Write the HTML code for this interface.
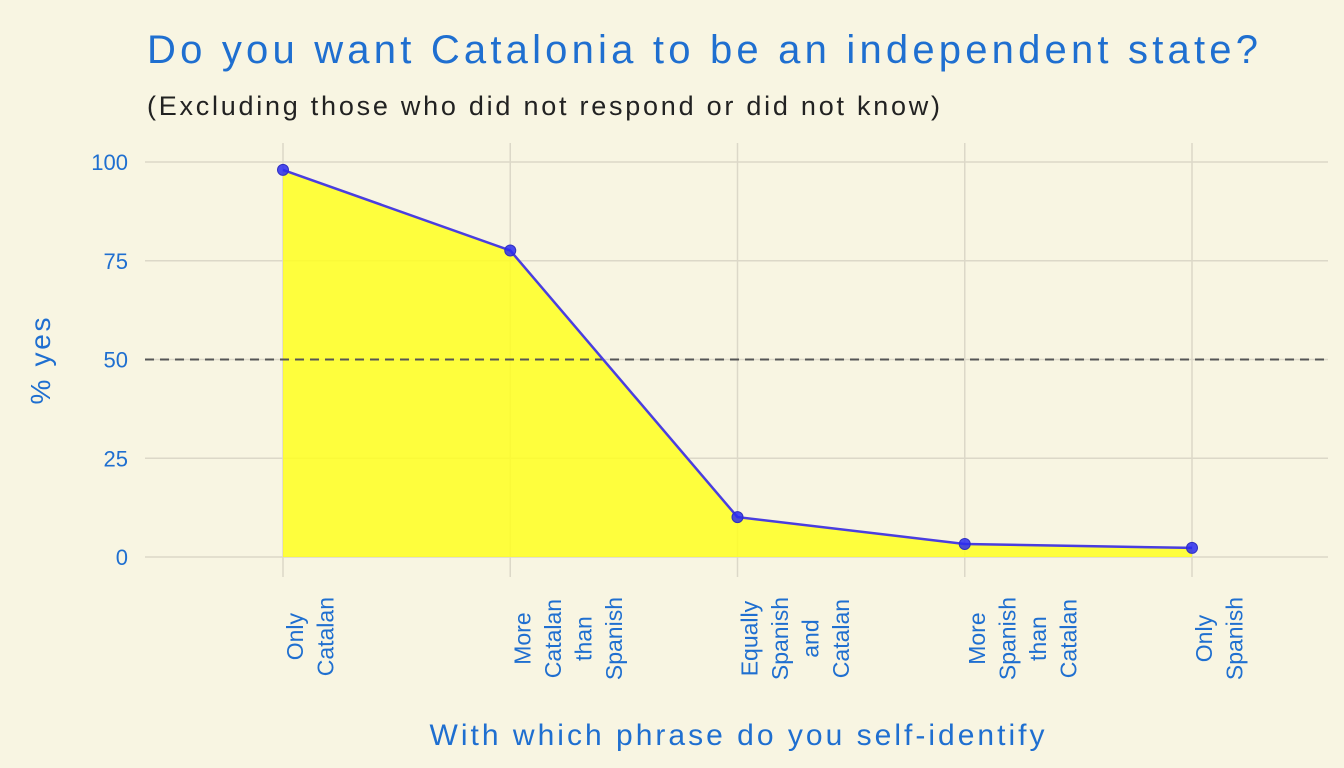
<!DOCTYPE html>
<html><head><meta charset="utf-8"><style>
body{margin:0;background:#f8f5e2;}
svg{display:block;font-family:"Liberation Sans",sans-serif;}
</style></head><body>
<svg id="chart" width="1344" height="768">
<rect width="1344" height="768" fill="#f8f5e2"/>
<text x="147" y="63" font-size="40" fill="#1f6fd0" textLength="1111" lengthAdjust="spacing">Do you want Catalonia to be an independent state?</text>
<text x="147" y="115" font-size="27" fill="#222" textLength="793" lengthAdjust="spacing">(Excluding those who did not respond or did not know)</text>
<g id="grid"></g><g id="marks"></g><g id="axes"></g>
<text transform="translate(50,361) rotate(-90)" text-anchor="middle" font-size="28" fill="#1f6fd0" textLength="87" lengthAdjust="spacing">% yes</text>
<text x="737" y="745" text-anchor="middle" font-size="30" fill="#1f6fd0" textLength="615" lengthAdjust="spacing">With which phrase do you self-identify</text>
</svg>
<script>
const categories=[["Only","Catalan"],["More","Catalan","than","Spanish"],["Equally","Spanish","and","Catalan"],["More","Spanish","than","Catalan"],["Only","Spanish"]];
const values=[98,77.6,10.1,3.3,2.3];
const yTicks=[0,25,50,75,100];
const threshold=50;
const NS="http://www.w3.org/2000/svg";
const x=i=>283+i*227.25;
const y=v=>557-v*3.95;
function mk(p,tag,a){const e=document.createElementNS(NS,tag);for(const k in a)e.setAttribute(k,a[k]);p.appendChild(e);return e;}
const grid=document.getElementById('grid'),marks=document.getElementById('marks'),axes=document.getElementById('axes');
yTicks.forEach(t=>{
 const l=mk(grid,'line',{x1:145,x2:1328,y1:y(t),y2:y(t),stroke:'#dcd8c8','stroke-width':1.5});
 
 
 const tx=mk(axes,'text',{x:128,y:y(t)+8,'text-anchor':'end','font-size':22,fill:'#1f6fd0'});
 tx.textContent=t;
 
 
});
categories.forEach((c,i)=>{
 const l=mk(grid,'line',{x1:x(i),x2:x(i),y1:143,y2:577,stroke:'#dcd8c8','stroke-width':1.5});
 
 
 const g=mk(axes,'g',{});
 
 
 const ts=c.map((w,j)=>{const t=mk(g,'text',{'text-anchor':'middle','font-size':23,fill:'#1f6fd0'});t.textContent=w;return t;});
 const maxL=Math.max(...ts.map(t=>t.getComputedTextLength()));
 const cy=597+maxL/2;
 ts.forEach((t,j)=>{const bx=x(i)+20+j*30.5;t.setAttribute('transform',`translate(${bx},${cy}) rotate(-90)`);});
});
let d=`M${x(0)},${y(0)}`;values.forEach((v,i)=>d+=` L${x(i)},${y(v)}`);d+=` L${x(values.length-1)},${y(0)} Z`;
const area=mk(marks,'path',{d,fill:'#ffff20','fill-opacity':0.85});


const th=mk(marks,'line',{x1:145,x2:1328,y1:y(threshold),y2:y(threshold),stroke:'#555','stroke-width':2,'stroke-dasharray':'9,6'});


const line=mk(marks,'polyline',{points:values.map((v,i)=>x(i)+','+y(v)).join(' '),fill:'none',stroke:'#4a3ee0','stroke-width':2.5});


values.forEach((v,i)=>{
 const c=mk(marks,'circle',{cx:x(i),cy:y(v),r:5.5,fill:'#2a2cf0','fill-opacity':0.85,stroke:'#3030c0'});
 
 
});
</script>
</body></html>
